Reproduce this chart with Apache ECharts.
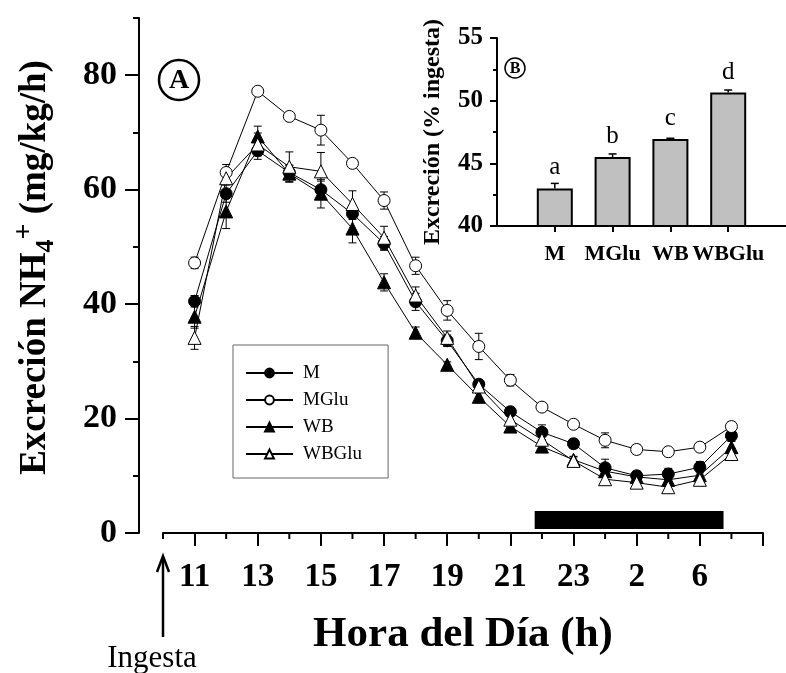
<!DOCTYPE html>
<html><head><meta charset="utf-8">
<script src="https://cdn.jsdelivr.net/npm/echarts@6/dist/echarts.min.js"></script>
<style>html,body{margin:0;padding:0;background:#fff}#c{width:786px;height:673px}</style>
</head><body><div id="c"></div>
<script>
// ---- Data (main panel A) ----
const hours = ['11','12','13','14','15','16','17','18','19','20','21','22','23','0','2','4','6','8'];
const M      = [40.5, 59.3, 66.8, 63.0, 60.0, 55.8, 50.6, 40.4, 33.6, 26.0, 21.2, 17.6, 15.6, 11.4, 10.0, 10.3, 11.5, 17.0];
const MGlu   = [47.2, 63.0, 77.2, 72.8, 70.4, 64.6, 58.1, 46.7, 38.9, 32.6, 26.7, 22.0, 19.0, 16.2, 14.6, 14.2, 15.0, 18.6];
const WB     = [37.8, 56.2, 69.3, 62.8, 59.3, 53.2, 43.8, 35.0, 29.4, 23.8, 18.6, 15.1, 12.8, 10.8, 9.8, 9.3, 10.1, 15.0];
const WBGlu  = [34.1, 62.0, 67.9, 64.0, 63.2, 57.5, 51.6, 41.5, 34.1, 25.6, 19.8, 16.3, 12.6, 9.4, 8.8, 8.0, 9.3, 13.8];
const M_err     = [1.0, 1.5, 1.5, 1.2, 1.5, 1.0, 1.2, 1.5, 1.0, 0.8, 0.8, 1.3, 0.8, 1.5, 0.8, 1.0, 1.0, 0.8];
const MGlu_err  = [1.0, 1.4, 0.5, 0.5, 2.6, 0.5, 1.5, 1.5, 1.7, 2.3, 1.0, 0.5, 0.5, 1.3, 0.8, 0.5, 0.8, 0.8];
const WB_err    = [2.0, 3.0, 1.8, 1.5, 2.5, 2.5, 1.5, 1.0, 0.5, 1.0, 0.5, 1.0, 0.5, 0.8, 0.8, 0.8, 0.8, 1.0];
const WBGlu_err = [2.0, 1.0, 2.0, 2.6, 3.3, 2.3, 2.0, 1.5, 1.2, 1.0, 0.8, 0.8, 0.8, 0.8, 0.5, 0.8, 0.8, 1.0];
// x-axis tick labels (axis slot index -> label); slot 0 = ingestion time
const xTickPos  = [1, 3, 5, 7, 9, 11, 13, 15, 17];
const xTickText = ['11','13','15','17','19','21','23','2','6'];
const xMinorPos = [0, 2, 4, 6, 8, 10, 12, 14, 16, 18];
const yTicks = [0, 20, 40, 60, 80];
const yMinorTicks = [10, 30, 50, 70, 90];
// dark period (axis slot units) and its vertical band (y units)
const darkStart = 11.77, darkEnd = 17.75, darkLow = 0.7, darkHigh = 3.85;

// ---- Data (inset panel B) ----
const groups = ['M', 'MGlu', 'WB', 'WBGlu'];
const pct    = [43.0, 45.5, 46.95, 50.65];
const pctErr = [0.4, 0.25, 0.05, 0.2];
const letters = ['a', 'b', 'c', 'd'];
const bTicks = [40, 45, 50, 55];
const bMinor = [42.5, 47.5, 52.5];

const FF = '"Liberation Serif","Times New Roman",serif';
const BLACK = '#000';

function pts(vals) { return vals.map((v, i) => [i + 1, v]); }
function errPts(vals, errs) { return vals.map((v, i) => [i + 1, v, errs[i]]); }

function errRender(params, api) {
  const x = api.value(0), v = api.value(1), e = api.value(2);
  const t = api.coord([x, v + e]), b = api.coord([x, v - e]);
  const w = 4, st = { stroke: BLACK, lineWidth: 1 };
  return { type: 'group', children: [
    { type: 'line', shape: { x1: t[0], y1: t[1], x2: b[0], y2: b[1] }, style: st },
    { type: 'line', shape: { x1: t[0] - w, y1: t[1], x2: t[0] + w, y2: t[1] }, style: st },
    { type: 'line', shape: { x1: b[0] - w, y1: b[1], x2: b[0] + w, y2: b[1] }, style: st }
  ]};
}
function errUpRender(params, api) {
  const x = api.value(0), v = api.value(1), e = api.value(2);
  const t = api.coord([x, v + e]), b = api.coord([x, v]);
  const w = 4, st = { stroke: BLACK, lineWidth: 1.5 };
  return { type: 'group', children: [
    { type: 'line', shape: { x1: t[0], y1: t[1], x2: b[0], y2: b[1] }, style: st },
    { type: 'line', shape: { x1: t[0] - w, y1: t[1], x2: t[0] + w, y2: t[1] }, style: st }
  ]};
}
// short (minor) ticks hanging under the x axis, at axis slot positions
function minorTickRender(params, api) {
  const c = api.coord([api.value(0), 0]);
  return { type: 'line', shape: { x1: c[0], y1: c[1], x2: c[0], y2: c[1] + 6 },
    style: { stroke: BLACK, lineWidth: 2 } };
}

function lineSeries(name, vals, symbol, fill) {
  return {
    type: 'line', name, xAxisIndex: 0, yAxisIndex: 0, data: pts(vals),
    symbol, symbolSize: symbol === 'triangle' ? 13 : 12, showAllSymbol: true,
    lineStyle: { color: BLACK, width: 1 },
    itemStyle: { color: fill, borderColor: BLACK, borderWidth: 1 },
    emphasis: { disabled: true }, z: 4
  };
}
function errSeries(vals, errs) {
  return { type: 'custom', xAxisIndex: 0, yAxisIndex: 0, data: errPts(vals, errs),
    encode: { x: 0, y: 1 }, renderItem: errRender, silent: true, z: 3 };
}

const chart = echarts.init(document.getElementById('c'), null, { renderer: 'canvas' });

const option = {
  animation: false,
  backgroundColor: '#fff',
  grid: [
    { left: 163, right: 23, top: 18, bottom: 140 },
    { left: 497, right: -6, top: 38, bottom: 447 }
  ],
  legend: {
    data: ['M', 'MGlu', 'WB', 'WBGlu'], orient: 'vertical',
    left: 233, top: 345, padding: [18, 26, 14, 12], itemGap: 7,
    itemWidth: 47, itemHeight: 11, borderColor: '#666', borderWidth: 1,
    textStyle: { fontFamily: FF, fontSize: 19, color: BLACK, lineHeight: 20, padding: [0, 0, 0, 5] },
    selectedMode: false
  },
  xAxis: [
    { type: 'value', gridIndex: 0, position: 'bottom', min: 0, max: 19, interval: 1,
      name: 'Hora del Día (h)', nameLocation: 'middle', nameGap: 80,
      nameTextStyle: { fontFamily: FF, fontSize: 43, fontWeight: 'bold', color: BLACK },
      axisLine: { show: true, onZero: false, lineStyle: { color: BLACK, width: 2 } },
      axisTick: { show: true, customValues: xTickPos.concat([19]), length: 13, lineStyle: { color: BLACK, width: 2 } },
      axisLabel: { customValues: xTickPos, margin: 28, fontFamily: FF, fontSize: 33, fontWeight: 'bold', color: BLACK,
        formatter: v => { const k = xTickPos.indexOf(Math.round(v)); return k >= 0 ? xTickText[k] : ''; } },
      splitLine: { show: false } },
    { type: 'value', gridIndex: 1, position: 'bottom', min: 0, max: 5, interval: 1,
      axisLine: { show: true, onZero: false, lineStyle: { color: BLACK, width: 2 } },
      axisTick: { show: true, customValues: [1, 2, 3, 4], length: 6, lineStyle: { color: BLACK, width: 2 } },
      axisLabel: { customValues: [1, 2, 3, 4], margin: 17, hideOverlap: false, fontFamily: FF, fontSize: 22, fontWeight: 'bold', color: BLACK,
        formatter: v => groups[Math.round(v) - 1] || '' },
      splitLine: { show: false } }
  ],
  yAxis: [
    { type: 'value', gridIndex: 0, min: 0, max: 90, interval: 10, position: 'left', offset: 24,
      name: 'Excreción NH{sub|4}{sup|+} (mg/kg/h)', nameLocation: 'middle', nameGap: 80,
      nameTextStyle: { fontFamily: FF, fontSize: 37, fontWeight: 'bold', color: BLACK, lineHeight: 48, padding: [0, 0, 0, 16],
        rich: {
          sub: { fontFamily: FF, fontSize: 26, fontWeight: 'bold', color: BLACK, verticalAlign: 'bottom', lineHeight: 26 },
          sup: { fontFamily: FF, fontSize: 28, fontWeight: 'bold', color: BLACK, verticalAlign: 'top', lineHeight: 24 }
        } },
      axisLine: { show: true, onZero: false, lineStyle: { color: BLACK, width: 2 } },
      axisTick: { show: true, customValues: yTicks, length: 14, lineStyle: { color: BLACK, width: 2 } },
      axisLabel: { customValues: yTicks, margin: 22, fontFamily: FF, fontSize: 34, fontWeight: 'bold', color: BLACK },
      splitLine: { show: false } },
    { type: 'value', gridIndex: 0, min: 0, max: 90, interval: 10, position: 'left', offset: 24,
      axisLine: { show: false, onZero: false },
      axisTick: { show: true, customValues: yMinorTicks, length: 6, lineStyle: { color: BLACK, width: 2 } },
      axisLabel: { show: false }, splitLine: { show: false } },
    { type: 'value', gridIndex: 1, min: 40, max: 55, interval: 5, position: 'left',
      name: 'Excreción (% ingesta)', nameLocation: 'middle', nameGap: 52,
      nameTextStyle: { fontFamily: FF, fontSize: 24, fontWeight: 'bold', color: BLACK },
      axisLine: { show: true, onZero: false, lineStyle: { color: BLACK, width: 2 } },
      axisTick: { show: true, customValues: bTicks, length: 7, lineStyle: { color: BLACK, width: 2 } },
      axisLabel: { customValues: bTicks, margin: 14, fontFamily: FF, fontSize: 25, fontWeight: 'bold', color: BLACK },
      splitLine: { show: false } },
    { type: 'value', gridIndex: 1, min: 40, max: 55, interval: 5, position: 'left',
      axisLine: { show: false, onZero: false },
      axisTick: { show: true, customValues: bMinor, length: 4, lineStyle: { color: BLACK, width: 2 } },
      axisLabel: { show: false }, splitLine: { show: false } }
  ],
  series: [
    { type: 'custom', xAxisIndex: 0, yAxisIndex: 0, data: xMinorPos.map(p => [p, 0]),
      encode: { x: 0, y: 1 }, renderItem: minorTickRender, clip: false, silent: true, z: 5 },
    errSeries(M, M_err), errSeries(MGlu, MGlu_err), errSeries(WB, WB_err), errSeries(WBGlu, WBGlu_err),
    Object.assign(lineSeries('M', M, 'circle', BLACK), {
      markArea: { silent: true, itemStyle: { color: BLACK },
        data: [[{ coord: [darkStart, darkLow] }, { coord: [darkEnd, darkHigh] }]] } }),
    lineSeries('MGlu', MGlu, 'circle', '#fff'),
    lineSeries('WB', WB, 'triangle', BLACK),
    lineSeries('WBGlu', WBGlu, 'triangle', '#fff'),
    { type: 'bar', xAxisIndex: 1, yAxisIndex: 2, data: pct.map((v, i) => [i + 1, v]), barWidth: 36,
      itemStyle: { color: '#c0c0c0', borderColor: BLACK, borderWidth: 2 },
      label: { show: true, position: 'top', distance: 8, fontFamily: FF, fontSize: 25, color: BLACK,
        formatter: p => letters[p.dataIndex] },
      emphasis: { disabled: true }, z: 2 },
    { type: 'custom', xAxisIndex: 1, yAxisIndex: 2, data: pct.map((v, i) => [i + 1, v, pctErr[i]]),
      encode: { x: 0, y: 1 }, renderItem: errUpRender, silent: true, z: 3 }
  ],
  graphic: [
    { type: 'circle', shape: { cx: 179, cy: 80, r: 20 }, style: { fill: '#fff', stroke: BLACK, lineWidth: 2.5 }, z: 10 },
    { type: 'text', x: 179, y: 81, style: { text: 'A', fontFamily: FF, fontSize: 28, fontWeight: 'bold', fill: BLACK, align: 'center', verticalAlign: 'middle' }, z: 11 },
    { type: 'circle', shape: { cx: 515, cy: 68, r: 10 }, style: { fill: '#fff', stroke: BLACK, lineWidth: 1.5 }, z: 10 },
    { type: 'text', x: 515, y: 69, style: { text: 'B', fontFamily: FF, fontSize: 16, fontWeight: 'bold', fill: BLACK, align: 'center', verticalAlign: 'middle' }, z: 11 },
    { type: 'line', shape: { x1: 163, y1: 637, x2: 163, y2: 557 }, style: { stroke: BLACK, lineWidth: 2.5 } },
    { type: 'polyline', shape: { points: [[157, 572], [163, 556], [169, 572]] }, style: { stroke: BLACK, lineWidth: 2.5, fill: null } },
    { type: 'text', x: 152, y: 659, style: { text: 'Ingesta', fontFamily: FF, fontSize: 31, fill: BLACK, align: 'center', verticalAlign: 'middle' } }
  ]
};
chart.setOption(option);
</script>
</body></html>
